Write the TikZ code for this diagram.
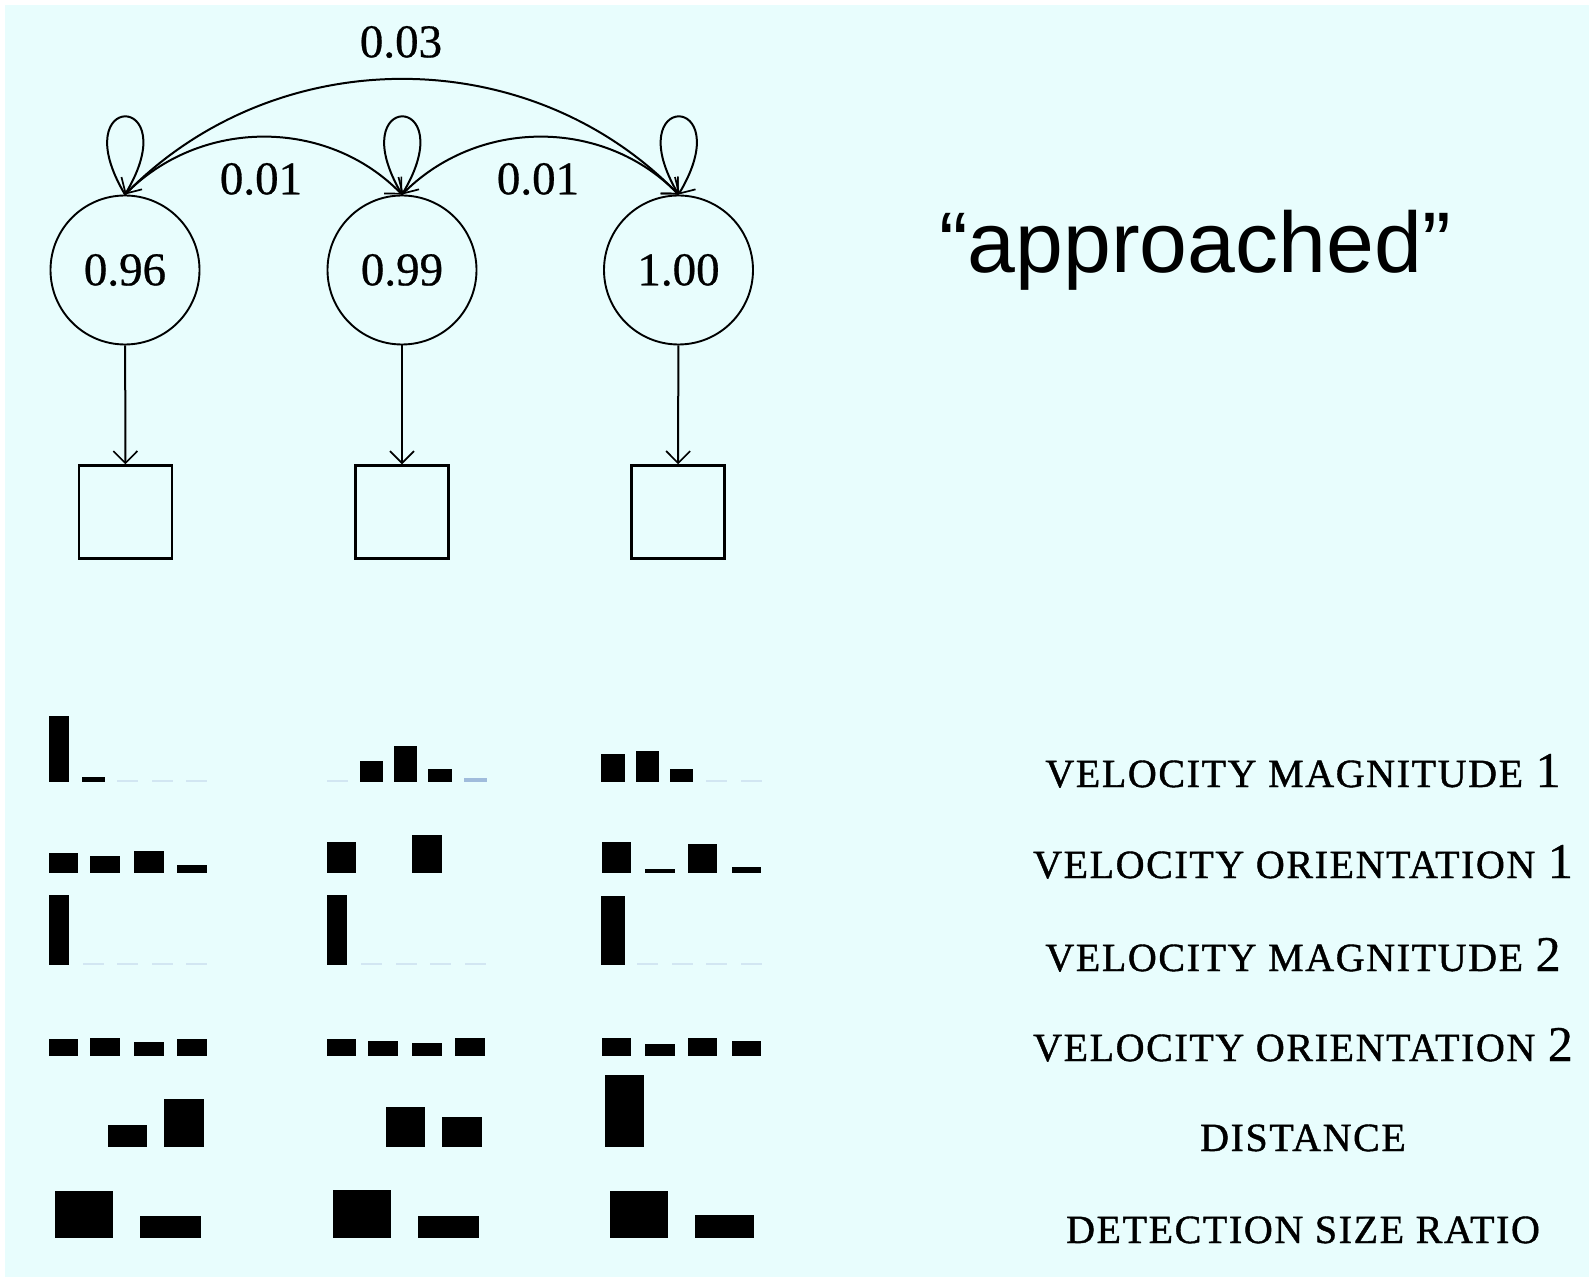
\documentclass[tikz,border=0pt]{standalone}
\usepackage{fontspec}
\setmainfont{Liberation Serif}
\newfontfamily\sansfam{Liberation Sans}
\newfontfamily\capfam[LetterSpace=4,FakeBold=1]{Liberation Serif}
\newfontfamily\numfam[FakeBold=0.6]{Liberation Serif}
\usetikzlibrary{arrows.meta}
\definecolor{bgcyan}{RGB}{232,253,253}
\definecolor{faintbar}{RGB}{210,230,242}
\definecolor{lightbar}{RGB}{160,188,220}
% one bar of a histogram: left, right, top, baseline
\newcommand\hbin[4]{\fill[black] (#1,#3) rectangle (#2,#4);}
% an empty bin, drawn as a faint stroke on the baseline: centre, baseline
\newcommand\zbin[2]{\fill[faintbar] (#1-10.5,#2-2) rectangle (#1+10.5,#2);}
\newcommand\capsize{\capfam\fontsize{20}{20}\selectfont}
\begin{document}
\begin{tikzpicture}[x=0.5pt,y=-0.5pt,
  state/.style={circle,draw,line width=0.95pt,minimum size=74.5pt,inner sep=0pt,
    font=\numfam\fontsize{23.5}{24}\selectfont},
  obs/.style={rectangle,draw,line width=1.2pt,minimum size=46.5pt,inner sep=0pt},
  trans/.style={line width=1pt,-{Straight Barb[length=6pt,width=12pt,line width=0.85pt]}},
  prob/.style={inner sep=0pt,font=\numfam\fontsize{23.5}{24}\selectfont},
  feat/.style={anchor=base,inner sep=0pt,font=\numfam\fontsize{25}{25}\selectfont},
  ]
\useasboundingbox (0,0) rectangle (1589,1277);
\fill[bgcyan] (0,0) rectangle (1589,1277);
\fill[white] (0,0) rectangle (5,1277);
\fill[white] (0,0) rectangle (1589,5);

% hidden states and observations
\node[state] (c1) at (125,270) {0.96};
\node[state] (c2) at (402,270) {0.99};
\node[state] (c3) at (678.5,270) {1.00};
\node[obs] (b1) at (125.5,512) {};
\node[obs] (b2) at (402,512) {};
\node[obs] (b3) at (678,512) {};

\draw[trans] (c1) -- (b1);
\draw[trans] (c2) -- (b2);
\draw[trans] (c3) -- (b3);

% self transitions
\draw[trans] (c1.north) .. controls +(-62,-104) and +(62,-104) .. (c1.north);
\draw[trans] (c2.north) .. controls +(-62,-104) and +(62,-104) .. (c2.north);
\draw[trans] (c3.north) .. controls +(-62,-104) and +(62,-104) .. (c3.north);

% forward transitions
\draw[trans] (c1.north) .. controls +(75,-77) and +(-75,-77) .. (c2.north);
\draw[trans] (c2.north) .. controls +(75,-77) and +(-75,-77) .. (c3.north);
\draw[trans] (c1.north) .. controls +(150,-154) and +(-150,-154) .. (c3.north);

\node[prob] (p13) at (401,42) {0.03};
\node[prob] (p12) at (261,179) {0.01};
\node[prob] (p23) at (538,179) {0.01};

\node[anchor=base,inner sep=0pt,font=\sansfam\fontsize{43}{43}\selectfont] (word) at (1195,273) {“approached”};

% velocity magnitude 1
\hbin{48.5}{69}{716}{782} \hbin{81.5}{104.5}{777}{782}
\zbin{127.7}{782} \zbin{162.2}{782} \zbin{196.7}{782}
\zbin{337}{782}
\hbin{360}{383}{761}{782} \hbin{394}{417}{746}{782} \hbin{427.5}{451.5}{769}{782}
\fill[lightbar] (464,778) rectangle (487,782);
\hbin{601}{625}{754}{782} \hbin{636}{659}{751}{782} \hbin{670}{693}{769}{782}
\zbin{716.5}{782} \zbin{751}{782}

% velocity orientation 1
\hbin{48.5}{77.5}{853}{873} \hbin{90}{120}{856}{873} \hbin{134}{164}{851}{873} \hbin{177}{206.5}{865}{873}
\hbin{326.5}{355.5}{842}{873} \hbin{412}{442}{835}{873}
\hbin{602}{631}{842}{873} \hbin{645}{675}{869}{873} \hbin{688}{717}{844}{873} \hbin{732}{761}{867}{873}

% velocity magnitude 2
\hbin{48.5}{69}{895}{965}
\zbin{93.2}{965} \zbin{127.7}{965} \zbin{162.2}{965} \zbin{196.7}{965}
\hbin{326.5}{347}{895}{965}
\zbin{371.5}{965} \zbin{406}{965} \zbin{440.5}{965} \zbin{475}{965}
\hbin{601}{625}{896}{965}
\zbin{647.5}{965} \zbin{682}{965} \zbin{716.5}{965} \zbin{751}{965}

% velocity orientation 2
\hbin{48.5}{77.5}{1039}{1056} \hbin{90}{120}{1038}{1056} \hbin{134}{164}{1042}{1056} \hbin{177}{206.5}{1039}{1056}
\hbin{326.5}{355.5}{1039}{1056} \hbin{368}{398}{1041}{1056} \hbin{412}{442}{1043}{1056} \hbin{455}{485}{1038}{1056}
\hbin{602}{631}{1038}{1056} \hbin{645}{675}{1044}{1056} \hbin{688}{717}{1038}{1056} \hbin{732}{761}{1041}{1056}

% distance
\hbin{108}{147}{1125}{1147} \hbin{164}{204}{1099}{1147}
\hbin{386}{424.5}{1107}{1147} \hbin{442}{482}{1117}{1147}
\hbin{604.5}{644}{1075}{1147}

% detection size ratio
\hbin{54.5}{113}{1191}{1238} \hbin{140}{200.5}{1216}{1238}
\hbin{332.5}{391}{1190}{1238} \hbin{418}{478.5}{1216}{1238}
\hbin{609.5}{668}{1191}{1238} \hbin{695}{753.5}{1215}{1238}

% feature names
\node[feat] (f1) at (1303,787) {{\capsize VELOCITY MAGNITUDE} 1};
\node[feat] (f2) at (1303,878) {{\capsize VELOCITY ORIENTATION} 1};
\node[feat] (f3) at (1303,971) {{\capsize VELOCITY MAGNITUDE} 2};
\node[feat] (f4) at (1303,1061) {{\capsize VELOCITY ORIENTATION} 2};
\node[feat] (f5) at (1303,1151) {{\capsize DISTANCE}};
\node[feat] (f6) at (1303,1243) {{\capsize DETECTION SIZE RATIO}};
\end{tikzpicture}
\end{document}
